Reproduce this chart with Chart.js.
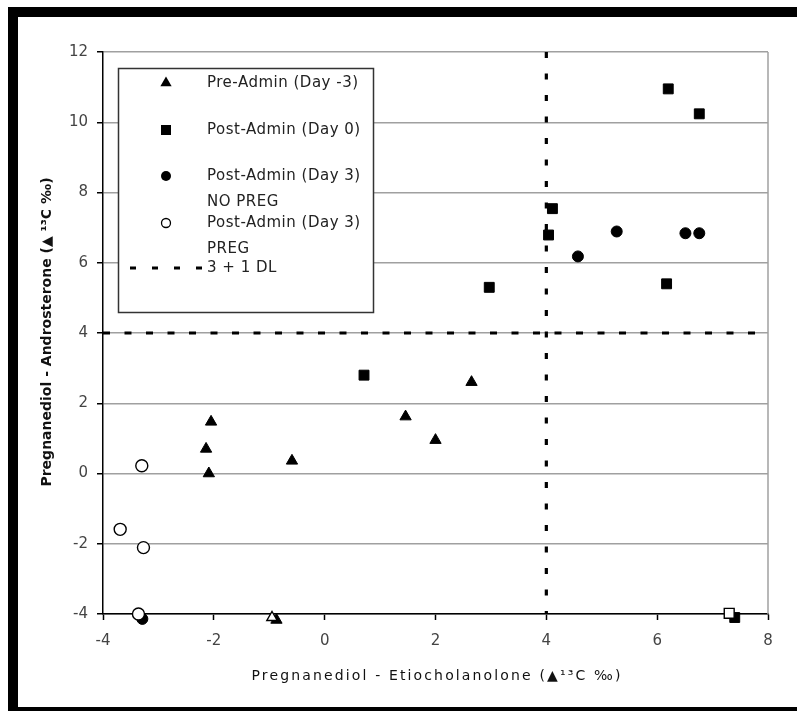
<!DOCTYPE html>
<html><head><meta charset="utf-8">
<script src="https://cdn.jsdelivr.net/npm/chart.js@4.4.0/dist/chart.umd.min.js"></script>
<style>html,body{margin:0;padding:0;background:#fff}#wrap{width:797px;height:711px;position:relative}</style>
</head><body><div id="wrap"><canvas id="c" width="797" height="711"></canvas></div>
<script>
// ---- data ----
const xTicks = [-4, -2, 0, 2, 4, 6, 8];
const yTicks = [-4, -2, 0, 2, 4, 6, 8, 10, 12];
const preAdminX = [-2.05, -2.14, -2.09, -0.59, 1.46, 2.00, 2.65, -0.87];
const preAdminY = [1.47, 0.70, 0.00, 0.36, 1.62, 0.95, 2.60, -4.17];
const day0X = [6.20, 6.76, 4.11, 4.04, 2.97, 6.17, 0.71, 7.40];
const day0Y = [10.95, 10.24, 7.54, 6.79, 5.30, 5.40, 2.80, -4.10];
const day3NoPregX = [5.27, 4.57, 6.51, 6.76, -3.29];
const day3NoPregY = [6.89, 6.18, 6.84, 6.84, -4.14];
const day3PregX = [-3.30, -3.69, -3.27, -3.36, -0.95, 7.30];
const day3PregY = [0.22, -1.59, -2.11, -4.00, -4.10, -3.98];
const day3PregStyle = ['circle', 'circle', 'circle', 'circle', 'triangle', 'rect'];
const dlX = 4;
const dlY = 4;
const seriesLabels = ['Pre-Admin (Day -3)', 'Post-Admin (Day 0)', 'Post-Admin (Day 3) NO PREG', 'Post-Admin (Day 3) PREG', '3 + 1 DL'];
const legendLines = [['Pre-Admin (Day -3)'], ['Post-Admin (Day 0)'], ['Post-Admin (Day 3)', 'NO PREG'], ['Post-Admin (Day 3)', 'PREG'], ['3 + 1 DL']];
const xTitle = 'Pregnanediol - Etiocholanolone (\u25B2\u00B9\u00B3C \u2030)';
const yTitle = 'Pregnanediol - Androsterone (\u25B2 \u00B9\u00B3C \u2030)';

const zip = (xs, ys) => xs.map((x, i) => ({x: x, y: ys[i]}));

const framePlugin = {
  id: 'frame',
  beforeDraw(chart) {
    const ctx = chart.ctx;
    ctx.save();
    ctx.fillStyle = '#fff';
    ctx.fillRect(0, 0, chart.width, chart.height);
    ctx.restore();
  },
  afterDatasetsDraw(chart) {
    const ctx = chart.ctx, a = chart.chartArea;
    ctx.save();
    // right border of plot
    ctx.strokeStyle = '#a0a0a0'; ctx.lineWidth = 1.5;
    ctx.beginPath(); ctx.moveTo(a.right, a.top); ctx.lineTo(a.right, a.bottom); ctx.stroke();
    // legend box
    ctx.fillStyle = '#fff';
    ctx.fillRect(118, 68, 255, 244);
    ctx.strokeStyle = '#333'; ctx.lineWidth = 1.5;
    ctx.strokeRect(118.5, 68.5, 255, 244);
    const rows = [83, 130, 176, 223, 268];
    const mx = 166;
    ctx.fillStyle = '#000';
    // triangle
    let r = 6.5, y = rows[0];
    ctx.beginPath(); ctx.moveTo(mx, y - r); ctx.lineTo(mx + 0.866 * r, y + r / 2); ctx.lineTo(mx - 0.866 * r, y + r / 2); ctx.closePath(); ctx.fill();
    // square
    ctx.fillRect(mx - 5, rows[1] - 5, 10, 10);
    // filled circle
    ctx.beginPath(); ctx.arc(mx, rows[2], 5, 0, Math.PI * 2); ctx.fill();
    // open circle
    ctx.beginPath(); ctx.arc(mx, rows[3], 4.5, 0, Math.PI * 2);
    ctx.fillStyle = '#fff'; ctx.fill(); ctx.strokeStyle = '#000'; ctx.lineWidth = 1.3; ctx.stroke();
    // dashed
    ctx.setLineDash([6, 16]); ctx.lineWidth = 3; ctx.strokeStyle = '#000';
    ctx.beginPath(); ctx.moveTo(130, rows[4]); ctx.lineTo(205, rows[4]); ctx.stroke();
    ctx.setLineDash([]);
    // text
    ctx.fillStyle = '#222';
    ctx.font = '15px "DejaVu Sans"';
    ctx.letterSpacing = '0.5px';
    ctx.textBaseline = 'middle'; ctx.textAlign = 'left';
    legendLines.forEach((lines, i) => {
      lines.forEach((t, j) => ctx.fillText(t, 207, rows[i] + j * 26));
    });
    ctx.letterSpacing = '0px';
    ctx.restore();
  },
  afterDraw(chart) {
    const ctx = chart.ctx;
    ctx.save();
    // axis titles
    ctx.fillStyle = '#111';
    ctx.textAlign = 'center'; ctx.textBaseline = 'middle';
    ctx.font = '14px "DejaVu Sans"';
    const w = ctx.measureText(xTitle).width;
    const sp = Math.max(0, (371 - w) / xTitle.length);
    ctx.letterSpacing = sp + 'px';
    ctx.fillText(xTitle, 437, 676);
    ctx.letterSpacing = '0px';
    ctx.translate(47, 332); ctx.rotate(-Math.PI / 2);
    ctx.font = 'bold 14px "DejaVu Sans"';
    ctx.fillText(yTitle, 0, 0);
    ctx.restore();
    // black frame
    ctx.save();
    ctx.fillStyle = '#000';
    ctx.fillRect(8, 7, 789, 10);
    ctx.fillRect(8, 7, 10, 704);
    ctx.fillRect(8, 707, 789, 4);
    ctx.restore();
  }
};

const tickFont = {family: '"DejaVu Sans"', size: 15};
new Chart(document.getElementById('c'), {
  type: 'scatter',
  data: {
    datasets: [
      {label: seriesLabels[3], data: zip(day3PregX, day3PregY), pointStyle: day3PregStyle,
       pointRadius: ctx => (day3PregStyle[ctx.dataIndex] === 'rect' ? 7 : 6),
       backgroundColor: '#fff', borderColor: '#000', borderWidth: 1.4, clip: false, order: 0},
      {label: seriesLabels[2], data: zip(day3NoPregX, day3NoPregY), pointStyle: 'circle', pointRadius: 5.5,
       backgroundColor: '#000', borderColor: '#000', borderWidth: 1, clip: false, order: 1},
      {label: seriesLabels[1], data: zip(day0X, day0Y), pointStyle: 'rect', pointRadius: 7,
       backgroundColor: '#000', borderColor: '#000', borderWidth: 1, clip: false, order: 2},
      {label: seriesLabels[0], data: zip(preAdminX, preAdminY), pointStyle: 'triangle', pointRadius: 6.5,
       backgroundColor: '#000', borderColor: '#000', borderWidth: 1, clip: false, order: 3},
      {label: seriesLabels[4], type: 'line', data: [{x: xTicks[0], y: dlY}, {x: xTicks[xTicks.length - 1], y: dlY}],
       borderColor: '#000', borderWidth: 3.2, borderDash: [7, 14.5], pointRadius: 0, fill: false, order: 5},
      {label: seriesLabels[4], type: 'line', data: [{x: dlX, y: yTicks[yTicks.length - 1]}, {x: dlX, y: yTicks[0]}],
       borderColor: '#000', borderWidth: 3.2, borderDash: [6, 15.5], pointRadius: 0, fill: false, order: 5}
    ]
  },
  options: {
    responsive: false,
    animation: false,
    events: [],
    layout: {padding: {top: 52, right: 29, left: 0, bottom: 0}},
    plugins: {legend: {display: false}, tooltip: {enabled: false}},
    scales: {
      x: {
        type: 'linear', min: xTicks[0], max: xTicks[xTicks.length - 1],
        afterBuildTicks: s => { s.ticks = xTicks.map(v => ({value: v})); },
        afterFit: s => { s.height = 97; },
        grid: {display: true, drawOnChartArea: false, tickLength: 6, tickColor: '#000', tickWidth: 1.5},
        border: {color: '#000', width: 1.5},
        ticks: {font: tickFont, color: '#444', padding: 12, maxRotation: 0}
      },
      y: {
        type: 'linear', min: yTicks[0], max: yTicks[yTicks.length - 1],
        afterBuildTicks: s => { s.ticks = yTicks.map(v => ({value: v})); },
        afterFit: s => { s.width = 103; },
        grid: {color: '#a0a0a0', lineWidth: 1.5, tickLength: 6, tickColor: '#000', tickWidth: 1.5},
        border: {color: '#000', width: 1.5},
        ticks: {font: tickFont, color: '#444', padding: 9}
      }
    }
  },
  plugins: [framePlugin]
});
</script>
</body></html>
